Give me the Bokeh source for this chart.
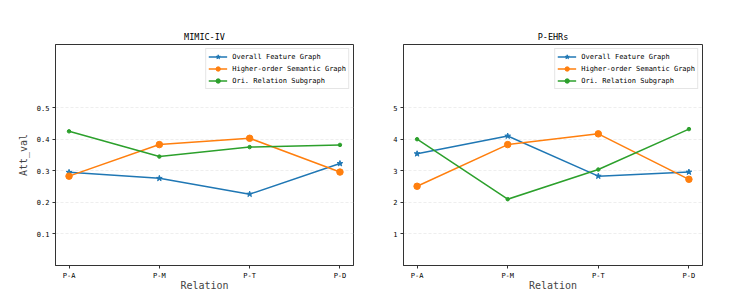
from bokeh.plotting import figure
from bokeh.layouts import row
from bokeh.models import FixedTicker, Range1d
from bokeh.embed import file_html
from bokeh.resources import INLINE

relations = ["P-A", "P-M", "P-T", "P-D"]
series_names = ["Overall Feature Graph", "Higher-order Semantic Graph", "Ori. Relation Subgraph"]

mimic_overall = [0.295, 0.276, 0.226, 0.323]
mimic_higher = [0.283, 0.383, 0.403, 0.296]
mimic_ori = [0.425, 0.345, 0.375, 0.382]

pehr_overall = [3.54, 4.10, 2.83, 2.96]
pehr_higher = [2.51, 3.83, 4.17, 2.73]
pehr_ori = [4.00, 2.10, 3.04, 4.32]

mimic_yticks = [0.1, 0.2, 0.3, 0.4, 0.5]
pehr_yticks = [1, 2, 3, 4, 5]

FONT = "DejaVu Sans Mono"
COLORS = ["#1f77b4", "#ff7f0e", "#2ca02c"]
MARKERS = [("star", 6), ("circle", 6.5), ("circle", 3.5)]


def make(title, series, yticks, ymax, ylabel, bl, br, fw):
    x = list(range(len(relations)))
    p = figure(output_backend="svg", toolbar_location=None,
               frame_width=fw, frame_height=221,
               min_border_left=bl, min_border_right=br,
               min_border_top=44, min_border_bottom=33,
               x_range=Range1d(-0.15, len(relations) - 1 + 0.15),
               y_range=Range1d(0, ymax), title=title)
    p.title.align = "center"
    p.title.text_font = FONT
    p.title.text_font_size = "8.5px"
    p.title.text_font_style = "normal"
    p.title.text_color = "#000000"
    p.title.standoff = 5
    for vals, name, color, (mk, sz) in zip(series, series_names, COLORS, MARKERS):
        p.line(x, vals, line_color=color, line_width=1.5, legend_label=name)
        p.scatter(x, vals, marker=mk, size=sz, fill_color=color, line_color=color,
                  legend_label=name)
    p.xaxis.ticker = FixedTicker(ticks=x)
    p.xaxis.major_label_overrides = {i: r for i, r in enumerate(relations)}
    p.yaxis.ticker = FixedTicker(ticks=yticks)
    for ax in [p.xaxis[0], p.yaxis[0]]:
        ax.major_label_text_font = FONT
        ax.major_label_text_font_size = "7px"
        ax.major_label_text_color = "#000000"
        ax.major_label_standoff = 3
        ax.axis_label_text_font = FONT
        ax.axis_label_text_font_size = "10px"
        ax.axis_label_text_font_style = "normal"
        ax.axis_line_color = "#333333"
        ax.major_tick_line_color = "#333333"
        ax.major_tick_out = 3
        ax.major_tick_in = 0
        ax.minor_tick_line_color = None
    p.xaxis.axis_label = "Relation"
    p.xaxis.axis_label_standoff = -3
    if ylabel:
        p.yaxis.axis_label = ylabel
        p.yaxis.axis_label_standoff = 5
    p.xgrid.grid_line_color = None
    p.ygrid.grid_line_color = "#e3e3e3"
    p.ygrid.grid_line_dash = "3 2"
    p.ygrid.grid_line_width = 0.6
    p.outline_line_color = "#333333"
    p.outline_line_alpha = 1
    lg = p.legend[0]
    lg.location = "top_right"
    lg.margin = 4
    lg.padding = 2
    lg.spacing = 1
    lg.glyph_height = 11
    lg.glyph_width = 19
    lg.label_height = 11
    lg.label_standoff = 5
    lg.label_text_font = FONT
    lg.label_text_font_size = "7px"
    lg.label_text_color = "#000000"
    lg.border_line_color = "#cccccc"
    lg.background_fill_alpha = 0.9
    return p


p1 = make("MIMIC-IV", [mimic_overall, mimic_higher, mimic_ori], mimic_yticks, 0.7, "Att_val", 55, 17, 298)
p2 = make("P-EHRs", [pehr_overall, pehr_higher, pehr_ori], pehr_yticks, 7, None, 33, 27, 299)

layout = row(p1, p2)
open("out.html", "w").write(file_html(layout, INLINE))
